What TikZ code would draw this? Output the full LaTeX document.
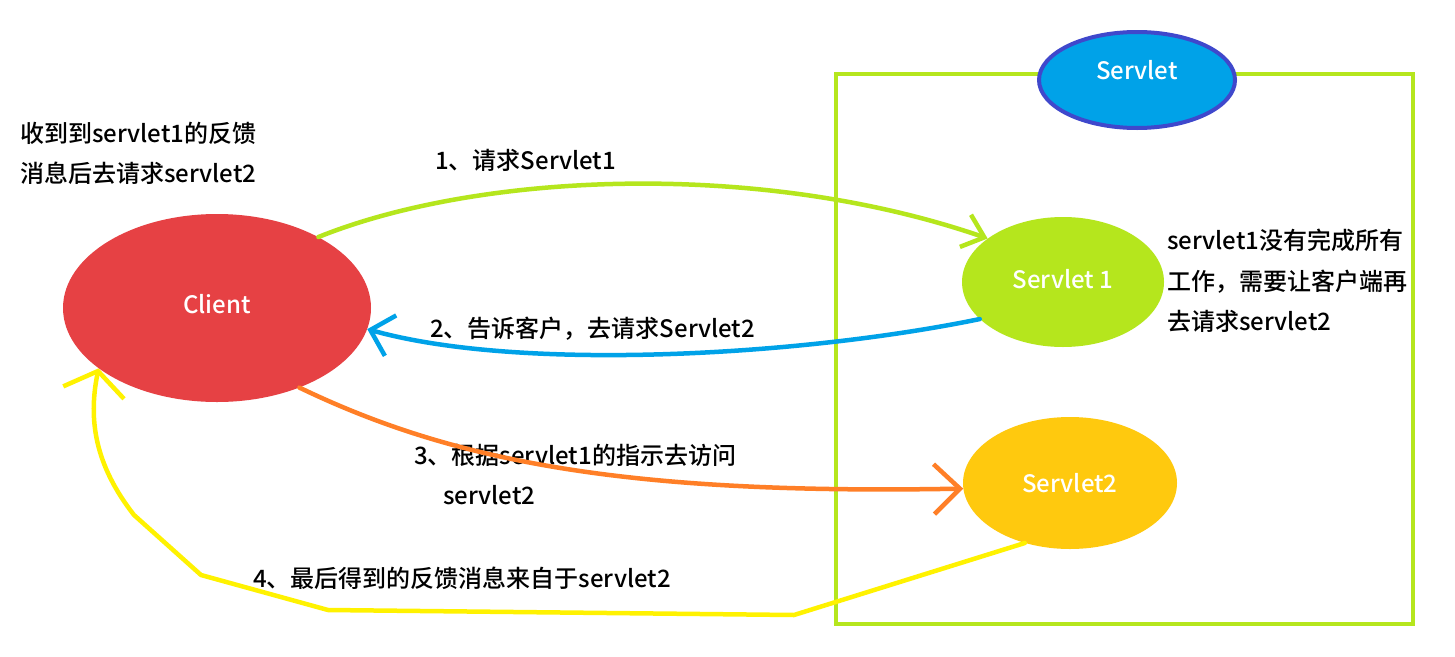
\documentclass[tikz,border=0pt]{standalone}
\usepackage{fontspec}
\IfFontExistsTF{Noto Sans CJK SC Medium}{\setmainfont{Noto Sans CJK SC Medium}}{\setmainfont{Noto Sans CJK SC}}
\usetikzlibrary{shapes.geometric,arrows.meta}
\definecolor{cred}{HTML}{E64144}
\definecolor{cgreen}{HTML}{B5E61D}
\definecolor{cblue}{HTML}{00A2E8}
\definecolor{corange}{HTML}{FF7F27}
\definecolor{cyellow}{HTML}{FFF200}
\definecolor{cgold}{HTML}{FFC90E}
\definecolor{cborder}{HTML}{3F48CC}
\begin{document}
\begin{tikzpicture}[x=1pt,y=-1pt,
  every node/.style={font=\fontsize{24}{28}\selectfont},
  txt/.style={anchor=base west, inner sep=0pt, text=black},
  bubble/.style={ellipse, inner sep=0pt, text=white},
  conn/.style={line width=4.5pt, line cap=round, line join=round},
  tipA/.style={-{Straight Barb[length=20pt,width=34pt]}},
  tipB/.style={-{Straight Barb[length=21pt,width=42pt]}},
  tipC/.style={-{Straight Barb[length=26pt,width=50pt]}},
  tipD/.style={-{Straight Barb[length=22pt,width=62pt]}}]
\fill[white] (0,0) rectangle (1455,656);
\useasboundingbox (0,0) rectangle (1455,656);

% frame
\node[draw=cgreen, line width=4.5pt, minimum width=577pt, minimum height=550pt, inner sep=0pt] (frame) at (1124.5,349) {};

% bubbles
\node[bubble, fill=cred, minimum width=308pt, minimum height=188pt, text depth=8pt] (client) at (217,308) {Client};
\node[bubble, fill=cgreen, minimum width=202pt, minimum height=130pt, text depth=6pt] (s1) at (1063,282) {Servlet 1};
\node[bubble, fill=cgold, minimum width=214pt, minimum height=132pt] (s2) at (1070,483) {Servlet2};
\node[bubble, fill=cblue, draw=cborder, line width=4pt, minimum width=196pt, minimum height=96pt] (servlet) at (1137,80) {};
\node[text=white, inner sep=0pt] (servlettxt) at (1137,70) {Servlet};

% texts
\node[txt] (left1) at (20,142) {收到到servlet1的反馈};
\node[txt] (left2) at (20,182) {消息后去请求servlet2};
\node[txt] (lbl1) at (435,169) {1、请求Servlet1};
\node[txt] (lbl2) at (430,337) {2、告诉客户，去请求Servlet2};
\node[txt] (lbl3a) at (414,464) {3、根据servlet1的指示去访问};
\node[txt] (lbl3b) at (443,504) {servlet2};
\node[txt] (lbl4) at (253,587) {4、最后得到的反馈消息来自于servlet2};
\node[txt] (r1) at (1167,249) {servlet1没有完成所有};
\node[txt] (r2) at (1167,290) {工作，需要让客户端再};
\node[txt] (r3) at (1167,330) {去请求servlet2};

% connectors
\draw[conn, cgreen, tipA] (client.35) .. controls (480,172) and (760,160) .. (s1.150);
\draw[conn, cblue, tipB] (s1.204) .. controls (800,356) and (520,372) .. (client.352);
\draw[conn, corange, tipC] (client.316) .. controls (450,460) and (620,495) .. (s2.183);
\coordinate (y1) at (794,615);
\coordinate (y2) at (328,610);
\coordinate (y3) at (201,575);
\coordinate (y4) at (134,515);
\draw[conn, cyellow, tipD] (s2.233) -- (y1) -- (y2) -- (y3) -- (y4) .. controls (95,465) and (88,420) .. (client.207);
\end{tikzpicture}
\end{document}
